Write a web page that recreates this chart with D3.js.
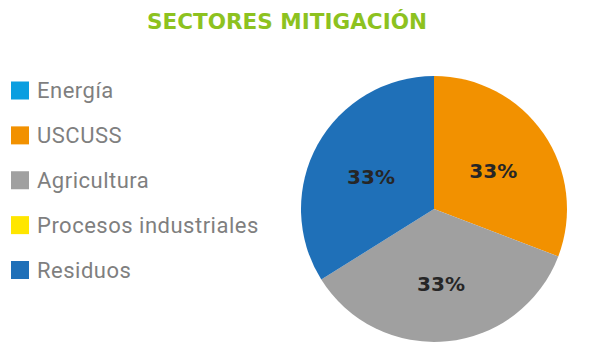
<!DOCTYPE html>
<html>
<head>
<meta charset="utf-8">
<script src="https://cdn.jsdelivr.net/npm/d3@7"></script>
<style>
  html, body { margin: 0; padding: 0; background: #ffffff; }
  svg { display: block; }
</style>
</head>
<body>
<svg id="chart" width="596" height="355"></svg>
<script>
// ---- data ----
const title = "SECTORES MITIGACIÓN";
const categories = ["Energía", "USCUSS", "Agricultura", "Procesos industriales", "Residuos"];
const values = [0, 30.8, 35.3, 0, 33.9];
const labels = ["", "33%", "33%", "", "33%"];
const colors = ["#0a9ee0", "#f29100", "#a0a0a0", "#ffe600", "#1f70b8"];

const svg = d3.select("#chart");

// title
svg.append("text")
  .attr("x", 287).attr("y", 28.5)
  .attr("text-anchor", "middle")
  .attr("font-family", "'DejaVu Sans', sans-serif")
  .attr("font-weight", 700)
  .attr("font-size", 21)
  .attr("textLength", 280)
  .attr("lengthAdjust", "spacingAndGlyphs")
  .attr("fill", "#8dc21f")
  .text(title);

// legend
const legendY = d3.scalePoint().domain(categories).range([90.5, 270]);
const lg = svg.append("g").selectAll("g").data(categories).join("g")
  .attr("transform", d => `translate(0,${legendY(d)})`);
lg.append("rect")
  .attr("x", 11).attr("y", -9).attr("width", 18).attr("height", 18)
  .attr("fill", (d, i) => colors[i]);
lg.append("text")
  .attr("x", 37).attr("y", 7.8)
  .attr("font-family", "Roboto, sans-serif")
  .attr("font-size", 22)
  .attr("letter-spacing", 0.5)
  .attr("fill", "#7f7f7f")
  .text(d => d);

// pie
const cx = 434, cy = 209, r = 133;
const data = categories.map((c, i) => ({ cat: c, value: values[i], label: labels[i], color: colors[i] }));
const pie = d3.pie().value(d => d.value).sort(null);
const arc = d3.arc().innerRadius(0).outerRadius(r);
const labelArc = d3.arc().innerRadius(72).outerRadius(72);
const arcs = pie(data).filter(d => d.data.value > 0);

const g = svg.append("g").attr("transform", `translate(${cx},${cy})`);
g.selectAll("path").data(arcs).join("path")
  .attr("d", arc)
  .attr("fill", d => d.data.color);

g.selectAll("text").data(arcs).join("text")
  .attr("transform", d => `translate(${labelArc.centroid(d)})`)
  .attr("text-anchor", "middle")
  .attr("dy", "0.5em")
  .attr("font-family", "'DejaVu Sans', sans-serif")
  .attr("font-weight", 700)
  .attr("font-size", 20)
  .attr("fill", "#262626")
  .text(d => d.data.label);
</script>
</body>
</html>
